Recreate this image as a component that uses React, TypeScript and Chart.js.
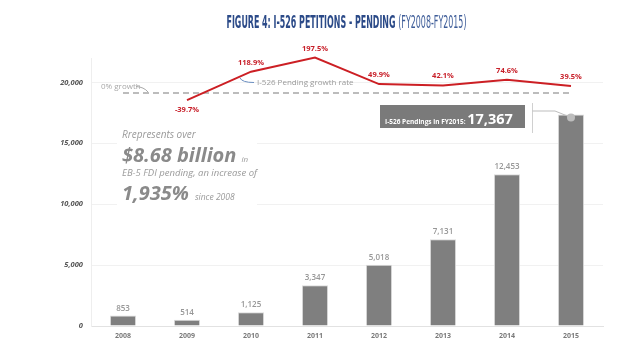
import React, { useEffect, useRef } from 'react';
import { Chart, registerables } from 'chart.js';

Chart.register(...registerables);

const years = ['2008', '2009', '2010', '2011', '2012', '2013', '2014', '2015'];
const pending = [853, 514, 1125, 3347, 5018, 7131, 12453, 17367];
const growth: (number | null)[] = [null, -39.7, 118.9, 197.5, 49.9, 42.1, 74.6, 39.5];
const zeroGrowth = [0, 0, 0, 0, 0, 0, 0, 0];
const yTickValues = [0, 5000, 10000, 15000, 20000];

const titleMain = 'FIGURE 4: I-526 PETITIONS - PENDING';
const titleSub = '(FY2008-FY2015)';
const calloutLabel = 'I-526 Pendings in FY2015: ';
const noteLines = {
  l1: 'Rrepresents over',
  big1: '$8.68 billion',
  small1: 'in',
  l2: 'EB-5 FDI pending, an increase of',
  big2: '1,935%',
  small2: 'since 2008',
};

const FONT = '"Open Sans", "DejaVu Sans", sans-serif';
const TFONT = '"DejaVu Sans Condensed", "Liberation Sans Narrow", "DejaVu Sans", sans-serif';
const fmt = (n: number) => n.toLocaleString('en-US');

const decorPlugin = {
  id: 'decor',
  beforeDatasetsDraw(chart: any) {
    const ctx = chart.ctx;
    ctx.save();
    ctx.fillStyle = '#ffffff';
    ctx.fillRect(117, 118, 140, 92);
    ctx.restore();
  },
  afterDatasetsDraw(chart: any) {
    const ctx = chart.ctx;
    ctx.save();
    // bar value labels
    ctx.textAlign = 'center';
    ctx.textBaseline = 'alphabetic';
    ctx.font = `600 8px ${FONT}`;
    ctx.fillStyle = '#979797';
    const barMeta = chart.getDatasetMeta(0);
    barMeta.data.forEach((el: any, i: number) => {
      if (i === pending.length - 1) return;
      ctx.fillText(fmt(pending[i]), el.x, el.y - 5);
    });
    // growth labels
    ctx.font = `bold 7.5px ${FONT}`;
    ctx.fillStyle = '#c8202a';
    const lineMeta = chart.getDatasetMeta(2);
    lineMeta.data.forEach((el: any, i: number) => {
      const v = growth[i];
      if (v == null) return;
      const y = v < 0 ? el.y + 11.5 : el.y - 7;
      ctx.fillText(v.toFixed(1) + '%', el.x, y);
    });

    // line annotations
    ctx.textAlign = 'left';
    ctx.font = `8px ${FONT}`;
    ctx.fillStyle = '#a8a8a8';
    ctx.fillText('0% growth', 101, 89);
    ctx.strokeStyle = '#a8a8a8';
    ctx.lineWidth = 1;
    ctx.beginPath();
    ctx.moveTo(136, 86.5);
    ctx.quadraticCurveTo(144, 87, 148, 92);
    ctx.stroke();

    ctx.fillStyle = '#9a9a9a';
    ctx.fillText('I-526 Pending growth rate', 257, 84.5);
    ctx.strokeStyle = '#6a8ec0';
    ctx.beginPath();
    ctx.moveTo(240, 78);
    ctx.quadraticCurveTo(242, 82.5, 254, 82.5);
    ctx.stroke();

    // callout for 2015
    const last = barMeta.data[pending.length - 1];
    ctx.fillStyle = '#7a7a7a';
    ctx.fillRect(380, 105, 145, 23);
    ctx.fillStyle = '#ffffff';
    ctx.font = `bold 6.5px ${FONT}`;
    ctx.fillText(calloutLabel, 385, 123.5);
    const lw = ctx.measureText(calloutLabel).width;
    ctx.font = `bold 14.5px ${FONT}`;
    ctx.fillText(fmt(pending[pending.length - 1]), 385 + lw, 124);
    ctx.strokeStyle = '#d0d0d0';
    ctx.lineWidth = 1;
    ctx.beginPath();
    ctx.moveTo(532.5, 103);
    ctx.lineTo(532.5, 133);
    ctx.stroke();
    ctx.strokeStyle = '#bdbdbd';
    ctx.beginPath();
    ctx.moveTo(532.5, 111);
    ctx.lineTo(555, 111);
    ctx.lineTo(last.x, last.y + 3);
    ctx.stroke();
    ctx.fillStyle = '#bdbdbd';
    ctx.beginPath();
    ctx.arc(last.x, last.y + 3, 4, 0, Math.PI * 2);
    ctx.fill();

    // note text
    ctx.fillStyle = '#9a9a9a';
    ctx.font = `italic 10px ${FONT}`;
    ctx.fillText(noteLines.l1, 122, 138);
    ctx.fillStyle = '#8a8a8a';
    ctx.font = `italic bold 20px ${FONT}`;
    ctx.fillText(noteLines.big1, 122, 162);
    let w = ctx.measureText(noteLines.big1).width;
    ctx.font = `italic 8px ${FONT}`;
    ctx.fillStyle = '#9a9a9a';
    ctx.fillText(noteLines.small1, 122 + w + 5, 162);
    ctx.font = `italic 9.5px ${FONT}`;
    ctx.fillText(noteLines.l2, 122, 176);
    ctx.fillStyle = '#8a8a8a';
    ctx.font = `italic bold 20px ${FONT}`;
    ctx.fillText(noteLines.big2, 122, 200);
    w = ctx.measureText(noteLines.big2).width;
    ctx.font = `italic 8.5px ${FONT}`;
    ctx.fillStyle = '#9a9a9a';
    ctx.fillText(noteLines.small2, 122 + w + 6, 200);

    // title (condensed horizontally to match the narrow display face)
    const bold = `bold 18px ${TFONT}`;
    const reg = `18px ${TFONT}`;
    ctx.font = bold;
    const w1 = ctx.measureText(titleMain).width;
    const gap = ctx.measureText(' ').width;
    ctx.font = reg;
    const w2 = ctx.measureText(titleSub).width;
    const targetW = 240;
    const sx = targetW / (w1 + gap + w2);
    ctx.translate(226.5, 28.3);
    ctx.scale(sx, 1);
    ctx.font = bold;
    ctx.fillStyle = '#2b4a88';
    ctx.fillText(titleMain, 0, 0);
    ctx.font = reg;
    ctx.fillStyle = '#3d5c98';
    ctx.fillText(titleSub, w1 + gap, 0);
    ctx.restore();
  },
};

export default function App() {
  const ref = useRef<HTMLCanvasElement>(null);
  useEffect(() => {
    if (!ref.current) return;
    const chart = new Chart(ref.current, {
      type: 'bar',
      data: {
        labels: years,
        datasets: [
          {
            type: 'bar',
            label: 'I-526 Pending',
            data: pending,
            backgroundColor: '#7f7f7f',
            borderColor: '#dcdcdc',
            borderWidth: 1,
            categoryPercentage: 1,
            barPercentage: 0.41,
            yAxisID: 'y',
            order: 3,
          } as any,
          {
            type: 'line',
            label: '0% growth',
            data: zeroGrowth,
            borderColor: '#a6a6a6',
            borderWidth: 1.5,
            borderDash: [6, 4],
            pointRadius: 0,
            yAxisID: 'y2',
            order: 2,
          } as any,
          {
            type: 'line',
            label: 'I-526 Pending growth rate',
            data: growth,
            borderColor: '#cc1f24',
            borderWidth: 2,
            pointRadius: 0,
            yAxisID: 'y2',
            clip: false,
            order: 1,
          } as any,
        ],
      },
      options: {
        responsive: false,
        animation: false,
        layout: { padding: { top: 58, right: 37, left: 0, bottom: 0 } },
        plugins: { legend: { display: false }, tooltip: { enabled: false } },
        scales: {
          x: {
            grid: { display: false, drawTicks: false },
            border: { color: '#e2e2e2' },
            ticks: {
              padding: 6,
              color: '#7a7a7a',
              font: { family: 'Open Sans', size: 7, weight: 'bold' },
            },
            afterFit: (s: any) => {
              s.height = 27;
            },
          },
          y: {
            min: 0,
            max: 22000,
            afterBuildTicks: (s: any) => {
              s.ticks = yTickValues.map((v) => ({ value: v }));
            },
            grid: {
              drawTicks: false,
              color: (c: any) => (c.tick && c.tick.value === 0 ? '#e2e2e2' : '#f1f1f1'),
            },
            border: { color: '#eeeeee' },
            ticks: {
              padding: 8,
              color: '#555555',
              font: { family: 'Open Sans', size: 7.5, style: 'italic', weight: 'bold' },
              callback: (v: any) => fmt(Number(v)),
            },
            afterFit: (s: any) => {
              s.width = 91;
            },
          },
          y2: {
            display: false,
            min: -1296,
            max: 195,
          },
        },
      } as any,
      plugins: [decorPlugin],
    });
    return () => chart.destroy();
  }, []);
  return (
    <div style={{ position: 'fixed', left: 0, top: 0, width: 640, height: 353, background: '#fff' }}>
      <canvas ref={ref} width={640} height={353} />
    </div>
  );
}
